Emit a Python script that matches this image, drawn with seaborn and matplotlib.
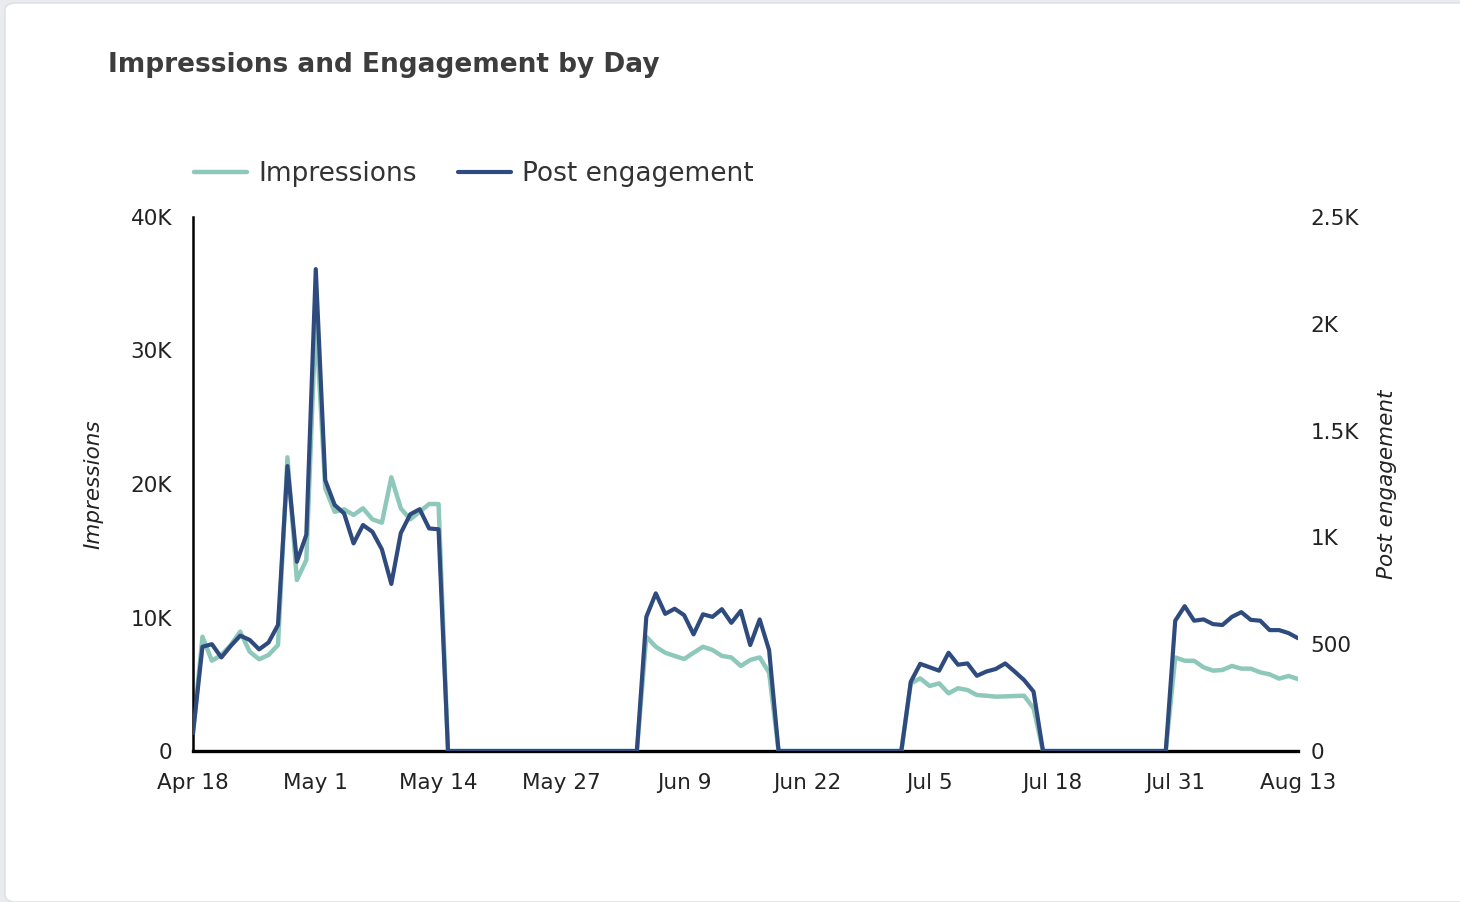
import matplotlib
matplotlib.use("Agg")
import matplotlib.pyplot as plt
import matplotlib.dates as mdates
from matplotlib.patches import FancyBboxPatch
from matplotlib.lines import Line2D
import numpy as np
import pandas as pd
import seaborn as sns

# Daily series, Apr 18 - Aug 13
start_date = "2023-04-18"
impressions = [
    1350, 8560, 6760, 7190, 7940, 8940, 7440, 6870, 7190, 7940,
    22000, 12810, 14310, 32500, 19680, 17920, 18100, 17680, 18180, 17350,
    17100, 20500, 18180, 17350, 17920, 18500, 18500,
    0, 0, 0, 0, 0, 0, 0, 0, 0, 0, 0, 0, 0, 0, 0, 0, 0, 0, 0, 0, 0,
    8560, 7810, 7360, 7120, 6890, 7360, 7810, 7570, 7120, 7010,
    6370, 6820, 7010, 5870,
    0, 0, 0, 0, 0, 0, 0, 0, 0, 0, 0, 0, 0, 0,
    5070, 5440, 4870, 5070, 4320, 4700, 4570, 4190, 4140, 4070,
    4090, 4120, 4140, 3200,
    0, 0, 0, 0, 0, 0, 0, 0, 0, 0, 0, 0, 0, 0,
    7010, 6760, 6760, 6270, 6020, 6070, 6370, 6170, 6170, 5890,
    5740, 5420, 5620, 5390,
]
post_engagement = [
    84, 488, 500, 438, 492, 540, 520, 476, 508, 590,
    1334, 886, 1012, 2256, 1268, 1152, 1112, 972, 1058, 1026,
    944, 782, 1020, 1108, 1132, 1042, 1038,
    0, 0, 0, 0, 0, 0, 0, 0, 0, 0, 0, 0, 0, 0, 0, 0, 0, 0, 0, 0, 0,
    628, 738, 642, 666, 636, 546, 640, 628, 664, 600,
    656, 496, 616, 472,
    0, 0, 0, 0, 0, 0, 0, 0, 0, 0, 0, 0, 0, 0,
    324, 408, 392, 376, 460, 404, 410, 352, 372, 384,
    410, 372, 332, 278,
    0, 0, 0, 0, 0, 0, 0, 0, 0, 0, 0, 0, 0, 0,
    610, 678, 610, 616, 594, 590, 628, 650, 614, 610,
    566, 566, 552, 528,
]
left_ticks = [0, 10000, 20000, 30000, 40000]
left_tick_labels = ["0", "10K", "20K", "30K", "40K"]
right_ticks = [0, 500, 1000, 1500, 2000, 2500]
right_tick_labels = ["0", "500", "1K", "1.5K", "2K", "2.5K"]

dates = pd.date_range(start_date, periods=len(impressions), freq="D")
df = pd.DataFrame({"date": dates, "Impressions": impressions,
                   "Post engagement": post_engagement})

sns.set_theme(style="white")
plt.rcParams["font.family"] = ["DejaVu Sans"]

TEAL = "#8ec8ba"
NAVY = "#2f4b7e"
TEXT = "#222222"

W, H = 1460, 902
fig = plt.figure(figsize=(W / 100, H / 100), dpi=100)
fig.patch.set_facecolor("#e9ebee")

# white card behind everything
card = FancyBboxPatch((5 / W, 0), 1.2, (H - 3) / H, boxstyle="round,pad=0,rounding_size=0.008",
                      transform=fig.transFigure, facecolor="white",
                      edgecolor="#dcdfe3", linewidth=1.0, zorder=-10)
fig.patches.append(card)

ax = fig.add_axes([193 / W, 1 - 751 / H, (1298 - 193) / W, (751 - 217) / H])
ax.set_facecolor("none")
ax2 = ax.twinx()
ax2.set_facecolor("none")

sns.lineplot(data=df, x="date", y="Impressions", ax=ax, color=TEAL, linewidth=3.2)
sns.lineplot(data=df, x="date", y="Post engagement", ax=ax2, color=NAVY, linewidth=3.0)

ax.set_xlim(dates[0], dates[-1])
ax.set_ylim(0, 40000)
ax2.set_ylim(0, 2500)

ax.set_yticks(left_ticks)
ax.set_yticklabels(left_tick_labels)
ax2.set_yticks(right_ticks)
ax2.set_yticklabels(right_tick_labels)

xticks = pd.date_range(dates[0], dates[-1], freq="13D")
ax.set_xticks(xticks)
ax.xaxis.set_major_formatter(mdates.DateFormatter("%b %-d"))

for a in (ax, ax2):
    a.tick_params(axis="both", length=0, labelsize=15.5, labelcolor=TEXT)
    for s in a.spines.values():
        s.set_visible(False)
ax.tick_params(axis="y", pad=15)
ax.tick_params(axis="x", pad=16)
ax2.tick_params(axis="y", pad=9)
ax.spines["left"].set_visible(True)
ax.spines["bottom"].set_visible(True)
ax.spines["left"].set_color("black")
ax.spines["bottom"].set_color("black")
ax.spines["left"].set_linewidth(1.8)
ax.spines["bottom"].set_linewidth(2.4)
ax.spines["bottom"].set_zorder(0)

ax.set_xlabel("")
ax.set_ylabel("Impressions", fontsize=15.5, style="italic", color=TEXT)
ax2.set_ylabel("Post engagement", fontsize=15.5, style="italic", color=TEXT,
               rotation=90)
ax.yaxis.set_label_coords(-(193 - 103) / (1298 - 193), 0.5)
ax2.yaxis.set_label_coords((1377 - 193) / (1298 - 193), 0.5)

fig.text(108 / W, 1 - 65 / H, "Impressions and Engagement by Day", fontsize=19,
         fontweight="bold", color="#3d3d3d", ha="left", va="center")

handles = [Line2D([], [], color=TEAL, linewidth=3.2),
           Line2D([], [], color=NAVY, linewidth=3.0)]
fig.legend(handles, ["Impressions", "Post engagement"], loc="center left",
           bbox_to_anchor=(170 / W, 1 - 174 / H), ncol=2, frameon=False,
           fontsize=19, handlelength=2.0, handletextpad=0.45, columnspacing=1.55,
           labelcolor="#333333")

fig.savefig("out.png", dpi=100, facecolor=fig.get_facecolor())
